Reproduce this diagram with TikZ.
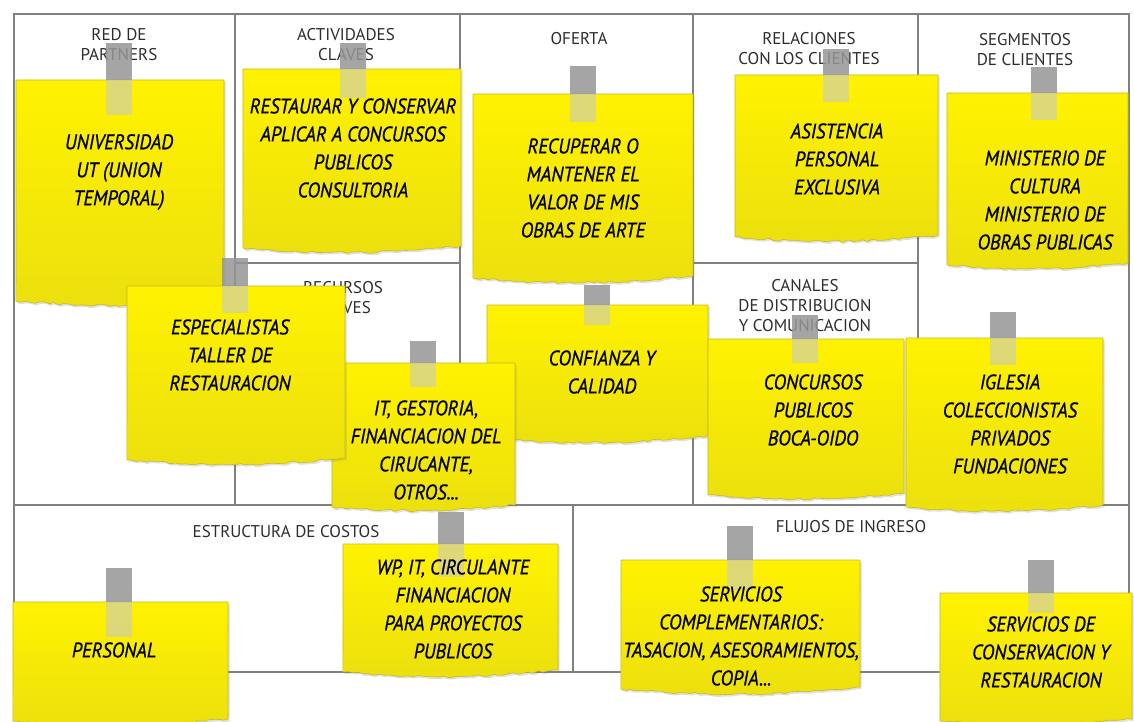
\documentclass[tikz,border=0pt]{standalone}
\usepackage{fontspec}
\setmainfont{PT Sans}
\newfontfamily\handfont[FakeStretch=0.9,FakeBold=0.8]{PT Sans}
\usetikzlibrary{decorations.pathmorphing,shadows}

\definecolor{gridline}{RGB}{128,128,128}
\definecolor{labelgray}{RGB}{45,45,45}
\definecolor{noteA}{RGB}{255,242,0}
\definecolor{noteB}{RGB}{236,224,14}
\definecolor{noteedge}{RGB}{196,186,40}
\definecolor{tapedark}{RGB}{150,150,150}
\definecolor{tapelight}{RGB}{200,200,200}

\tikzset{
  gridrule/.style={draw=gridline, line width=2pt},
  cellhead/.style={font=\fontsize{17}{20}\selectfont, text=labelgray, align=center, inner sep=0pt},
  notetext/.style={font=\handfont\itshape\fontsize{21}{28}\selectfont, align=center, inner sep=0pt, text=black},
  notebody/.style={top color=noteA, bottom color=noteB, draw=noteedge, line width=0.6pt,
    drop shadow={shadow xshift=1.5pt, shadow yshift=-2pt, opacity=0.25}},
  tornedge/.style={decoration={random steps, segment length=5pt, amplitude=1.1pt}},
  tapetop/.style={fill=tapedark, opacity=0.85},
  tapebottom/.style={fill=tapelight, opacity=0.6},
}

% sticky note: left, top, right, lowest point of the torn edge,
% tape centre, tape top, tape bottom
\newcommand{\stickynote}[7]{%
  \path[notebody] (#1,#2) -- (#3,#2) -- (#3,#4-7)
    decorate[tornedge]{to[bend left=5] (#1,#4-5)} -- cycle;
  \fill[tapetop] (#5-13,#6) rectangle (#5+13,#2);
  \fill[tapebottom] (#5-13,#2) rectangle (#5+13,#7);
}

\begin{document}
\begin{tikzpicture}[x=1pt, y=-1pt]
\pgfmathsetseed{7}
\useasboundingbox (0,0) rectangle (1134,722);
\fill[white] (0,0) rectangle (1134,722);

% canvas grid
\draw[gridrule] (14,14) rectangle (1129,672);
\draw[gridrule] (14,505) -- (1129,505);
\draw[gridrule] (235,14) -- (235,505);
\draw[gridrule] (460,14) -- (460,505);
\draw[gridrule] (693,14) -- (693,505);
\draw[gridrule] (918,14) -- (918,505);
\draw[gridrule] (235,263) -- (460,263);
\draw[gridrule] (693,263) -- (918,263);
\draw[gridrule] (573,505) -- (573,672);

% cell headings
\node[cellhead] (hPartners) at (119,45) {RED DE\\PARTNERS};
\node[cellhead] (hActividades) at (346,45) {ACTIVIDADES\\CLAVES};
\node[cellhead] (hOferta) at (579,39) {OFERTA};
\node[cellhead] (hRelaciones) at (809,49) {RELACIONES\\CON LOS CLIENTES};
\node[cellhead] (hSegmentos) at (1025,50) {SEGMENTOS\\DE CLIENTES};
\node[cellhead] (hRecursos) at (343,298) {RECURSOS\\CLAVES};
\node[cellhead] (hCanales) at (805,306) {CANALES\\DE DISTRIBUCION\\Y COMUNICACION};
\node[cellhead] (hCostos) at (286,532) {ESTRUCTURA DE COSTOS};
\node[cellhead] (hFlujos) at (851,527) {FLUJOS DE INGRESO};

% top row notes
\stickynote{16}{80}{224}{306}{119}{43}{115}
\node[notetext] (partners) at (119,172) {UNIVERSIDAD\\UT (UNION\\TEMPORAL)};
\stickynote{243}{69}{461}{253}{353}{43}{98}
\node[notetext] (actividades) at (353,148) {RESTAURAR Y CONSERVAR\\APLICAR A CONCURSOS\\PUBLICOS\\CONSULTORIA};
\stickynote{473}{94}{693}{283}{583}{66}{122}
\node[notetext] (oferta) at (583,188) {RECUPERAR O\\MANTENER EL\\VALOR DE MIS\\OBRAS DE ARTE};
\stickynote{735}{75}{938}{242}{836}{49}{102}
\node[notetext] (relaciones) at (837,159) {ASISTENCIA\\PERSONAL\\EXCLUSIVA};
\stickynote{947}{93}{1128}{270}{1044}{67}{120}
\node[notetext] (segmentos) at (1045,200) {MINISTERIO DE\\CULTURA\\MINISTERIO DE\\OBRAS PUBLICAS};

% middle notes
\stickynote{487}{305}{708}{443}{597}{285}{325}
\node[notetext] (confianza) at (602,372) {CONFIANZA Y\\CALIDAD};
\stickynote{708}{339}{904}{500}{805}{315}{363}
\node[notetext] (canales) at (813,410) {CONCURSOS\\PUBLICOS\\BOCA-OIDO};
\stickynote{906}{338}{1103}{512}{1003}{312}{365}
\node[notetext] (iglesia) at (1010,424) {IGLESIA\\COLECCIONISTAS\\PRIVADOS\\FUNDACIONES};
\stickynote{332}{363}{515}{512}{423}{341}{387}
\node[notetext] (recursos) at (426,450) {IT, GESTORIA,\\FINANCIACION DEL\\CIRUCANTE,\\OTROS...};
\stickynote{127}{286}{345}{465}{235}{258}{313}
\node[notetext] (especialistas) at (230,355) {ESPECIALISTAS\\TALLER DE\\RESTAURACION};

% bottom notes
\stickynote{343}{544}{558}{677}{451}{512}{577}
\node[notetext] (costos) at (453,609) {WP, IT, CIRCULANTE\\FINANCIACION\\PARA PROYECTOS\\PUBLICOS};
\stickynote{13}{602}{228}{726}{119}{568}{637}
\node[notetext] (personal) at (114,650) {PERSONAL};
\stickynote{621}{560}{860}{694}{740}{526}{590}
\node[notetext] (complementarios) at (741,636) {SERVICIOS\\COMPLEMENTARIOS:\\TASACION, ASESORAMIENTOS,\\COPIA...};
\stickynote{940}{593}{1132}{726}{1041}{560}{613}
\node[notetext] (conservacion) at (1041,652) {SERVICIOS DE\\CONSERVACION Y\\RESTAURACION};
\end{tikzpicture}
\end{document}
